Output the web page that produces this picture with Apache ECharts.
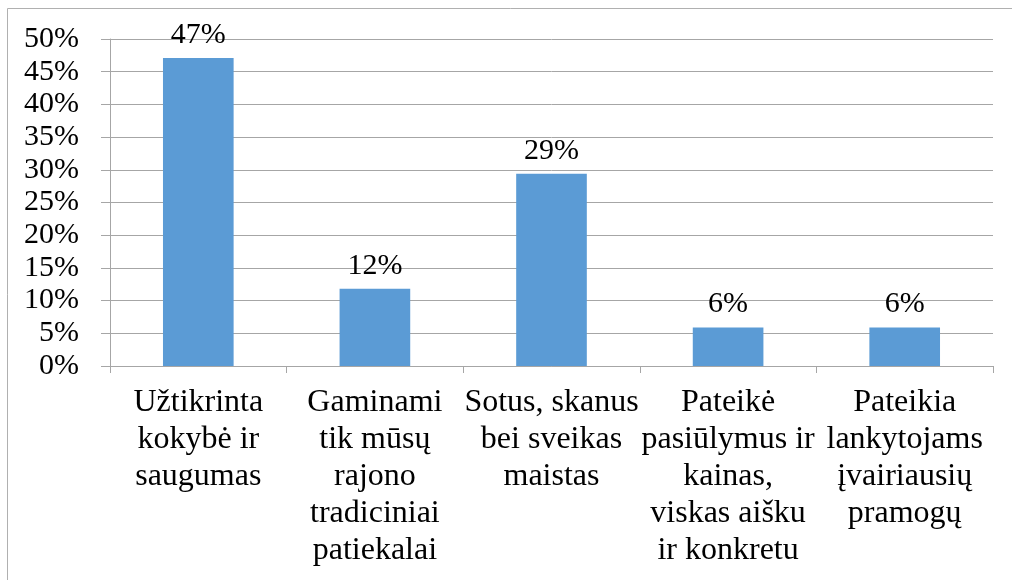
<!DOCTYPE html>
<html>
<head>
<meta charset="utf-8">
<script src="https://cdn.jsdelivr.net/npm/echarts@6/dist/echarts.min.js"></script>
<style>
  html, body { margin: 0; padding: 0; background: #fff; }
  #chart { width: 1012px; height: 580px; }
</style>
</head>
<body>
<div id="chart"></div>
<script>
  const categories = [
    'Užtikrinta\nkokybė ir\nsaugumas',
    'Gaminami\ntik mūsų\nrajono\ntradiciniai\npatiekalai',
    'Sotus, skanus\nbei sveikas\nmaistas',
    'Pateikė\npasiūlymus ir\nkainas,\nviskas aišku\nir konkretu',
    'Pateikia\nlankytojams\nįvairiausių\npramogų'
  ];
  const shares = [47.1, 11.8, 29.4, 5.9, 5.9];

  const serif = 'Liberation Serif';
  const gray = '#a6a6a6';

  const chart = echarts.init(document.getElementById('chart'));
  chart.setOption({
    animation: false,
    textStyle: { fontFamily: serif },
    // outer chart-area frame
    graphic: [{
      type: 'rect',
      shape: { x: 7.5, y: 8.5, width: 1010, height: 600 },
      style: { fill: 'none', stroke: '#b0b0b0', lineWidth: 1 }
    }],
    grid: { left: 110, right: 19, top: 39, bottom: 214 },
    xAxis: {
      type: 'category',
      data: categories,
      axisLine: { lineStyle: { color: gray } },
      axisTick: { show: true, length: 7, lineStyle: { color: gray } },
      axisLabel: {
        interval: 0,
        margin: 18,
        color: '#000',
        fontFamily: serif,
        fontSize: 32,
        lineHeight: 37
      }
    },
    yAxis: {
      type: 'value',
      min: 0,
      max: 50,
      interval: 5,
      axisLine: { show: true, lineStyle: { color: gray } },
      axisTick: { show: true, length: 9, lineStyle: { color: gray } },
      splitLine: { lineStyle: { color: gray } },
      axisLabel: {
        margin: 31,
        color: '#000',
        fontFamily: serif,
        fontSize: 30,
        formatter: v => v + '%'
      }
    },
    series: [{
      type: 'bar',
      data: shares,
      barWidth: '40%',
      itemStyle: { color: '#5b9bd5' },
      label: {
        show: true,
        position: 'top',
        distance: 8,
        color: '#000',
        fontFamily: serif,
        fontSize: 30,
        formatter: p => Math.round(p.value) + '%'
      }
    }]
  });
</script>
</body>
</html>
